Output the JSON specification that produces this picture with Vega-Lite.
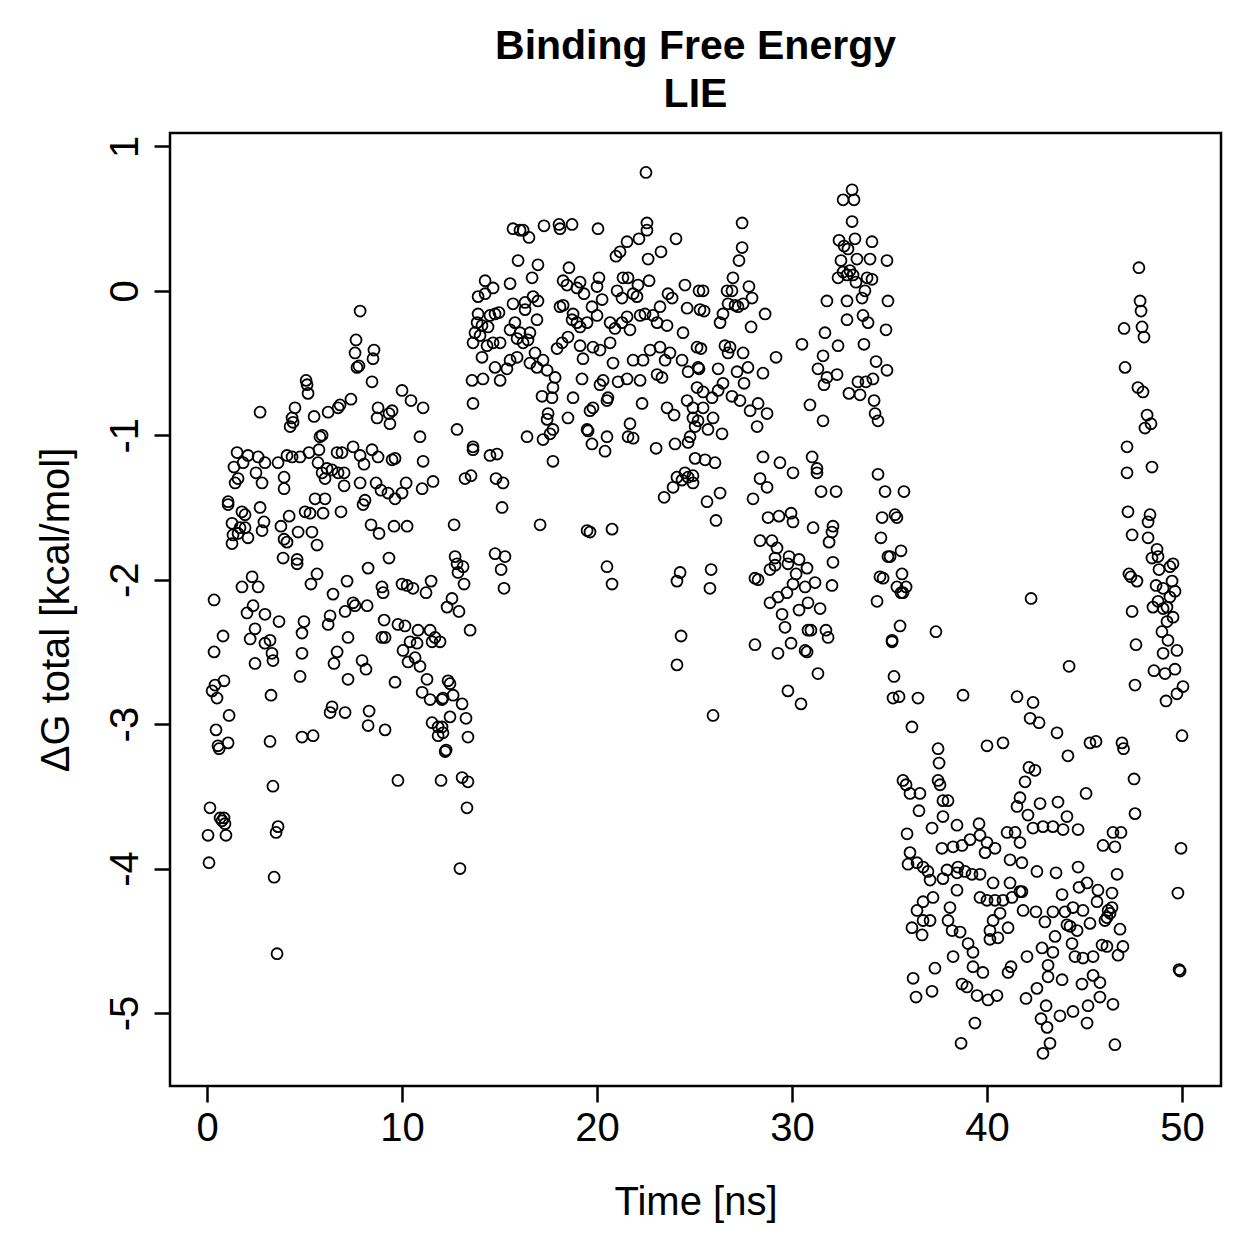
{
"$schema": "https://vega.github.io/schema/vega-lite/v6.json",
"width": 1051, "height": 953,
"autosize": {"type": "none"},
"padding": {"left": 170, "top": 133, "right": 38, "bottom": 173},
"background": "white",
"title": {"text": ["Binding Free Energy", "LIE"], "font": "Liberation Sans", "fontSize": 41, "fontWeight": "bold", "color": "black", "anchor": "middle", "frame": "group", "baseline": "bottom", "lineHeight": 48, "offset": 16, "dy": 40},
"config": {"view": {"stroke": "black", "strokeWidth": 2.5}, "font": "Liberation Sans"},
"data": {"values": [
{"t":0.05,"g":-3.77},{"t":0.10,"g":-3.96},{"t":0.15,"g":-3.58},{"t":0.26,"g":-2.77},{"t":0.36,"g":-2.14},{"t":0.36,"g":-2.50},{"t":0.41,"g":-2.73},{"t":0.46,"g":-3.04},{"t":0.51,"g":-2.82},{"t":0.56,"g":-3.15},{"t":0.62,"g":-3.17},{"t":0.67,"g":-3.65},{"t":0.77,"g":-3.67},{"t":0.87,"g":-3.65},{"t":0.92,"g":-3.69},{"t":0.97,"g":-3.77},{"t":0.87,"g":-2.70},{"t":0.82,"g":-2.39},{"t":1.08,"g":-3.13},{"t":1.13,"g":-2.94},
{"t":1.08,"g":-1.46},{"t":1.08,"g":-1.48},{"t":1.79,"g":-1.53},{"t":1.95,"g":-1.55},{"t":2.72,"g":-1.50},{"t":1.28,"g":-1.61},{"t":1.69,"g":-1.64},{"t":1.95,"g":-1.64},{"t":1.33,"g":-1.69},{"t":1.28,"g":-1.75},{"t":1.59,"g":-1.68},{"t":2.10,"g":-1.71},{"t":2.82,"g":-1.66},{"t":2.92,"g":-1.60},{"t":1.54,"g":-1.12},{"t":2.10,"g":-1.14},{"t":2.62,"g":-1.15},{"t":2.97,"g":-1.19},{"t":1.85,"g":-1.19},{"t":1.38,"g":-1.22},{"t":2.51,"g":-1.26},{"t":1.59,"g":-1.30},{"t":1.44,"g":-1.33},{"t":2.82,"g":-1.33},{"t":2.72,"g":-0.84},{"t":1.79,"g":-2.05},{"t":2.31,"g":-1.98},{"t":2.62,"g":-2.05},{"t":2.36,"g":-2.18},{"t":2.05,"g":-2.23},{"t":2.97,"g":-2.24},{"t":3.69,"g":-2.29},{"t":2.21,"g":-2.41},{"t":2.46,"g":-2.34},{"t":2.97,"g":-2.44},{"t":3.23,"g":-2.42},{"t":3.33,"g":-2.51},{"t":3.38,"g":-2.56},{"t":2.46,"g":-2.58},{"t":3.28,"g":-2.80},{"t":3.23,"g":-3.12},{"t":3.38,"g":-3.43},{"t":3.64,"g":-3.71},{"t":3.54,"g":-3.75},{"t":3.44,"g":-4.06},{"t":3.59,"g":-4.59},
{"t":3.95,"g":-1.29},{"t":3.95,"g":-1.37},{"t":3.64,"g":-1.19},{"t":4.10,"g":-1.14},{"t":4.36,"g":-1.15},{"t":4.77,"g":-1.15},{"t":4.51,"g":-0.81},{"t":4.36,"g":-0.88},{"t":4.41,"g":-0.91},{"t":4.26,"g":-0.94},{"t":3.79,"g":-1.63},{"t":4.21,"g":-1.56},{"t":3.95,"g":-1.72},{"t":4.10,"g":-1.74},{"t":3.90,"g":-1.85},{"t":4.67,"g":-1.67},{"t":4.62,"g":-1.86},{"t":4.62,"g":-1.89},{"t":5.08,"g":-0.62},{"t":5.13,"g":-0.65},{"t":5.18,"g":-0.71},{"t":5.49,"g":-0.87},{"t":5.23,"g":-1.12},{"t":5.74,"g":-1.10},{"t":5.69,"g":-1.19},{"t":5.90,"g":-1.26},{"t":6.15,"g":-1.23},{"t":6.41,"g":-1.24},{"t":6.72,"g":-1.26},{"t":7.03,"g":-1.26},{"t":6.05,"g":-1.30},{"t":6.67,"g":-1.12},{"t":6.92,"g":-1.12},{"t":5.90,"g":-1.00},{"t":5.79,"g":-1.01},{"t":6.21,"g":-0.84},{"t":6.72,"g":-0.81},{"t":6.82,"g":-0.79},{"t":7.38,"g":-0.75},{"t":5.03,"g":-1.53},{"t":5.28,"g":-1.54},{"t":5.54,"g":-1.44},{"t":6.05,"g":-1.44},{"t":5.95,"g":-1.54},{"t":6.87,"g":-1.53},{"t":5.38,"g":-1.67},{"t":5.64,"g":-1.76},{"t":5.64,"g":-1.96},{"t":5.33,"g":-2.03},{"t":6.46,"g":-2.10},{"t":7.03,"g":-1.35},{"t":6.31,"g":-2.25},{"t":7.08,"g":-2.22},{"t":4.97,"g":-2.29},{"t":4.87,"g":-2.37},{"t":4.87,"g":-2.51},{"t":4.77,"g":-2.67},{"t":6.21,"g":-2.31},{"t":7.59,"g":-2.18},{"t":8.21,"g":-2.18},{"t":7.23,"g":-2.40},{"t":6.67,"g":-2.50},{"t":6.51,"g":-2.58},{"t":7.95,"g":-2.56},{"t":8.15,"g":-2.62},{"t":7.23,"g":-2.69},{"t":6.31,"g":-2.92},{"t":6.41,"g":-2.88},{"t":7.08,"g":-2.92},{"t":8.26,"g":-3.01},{"t":8.31,"g":-2.91},{"t":4.87,"g":-3.09},{"t":5.44,"g":-3.08},
{"t":7.85,"g":-0.14},{"t":7.64,"g":-0.34},{"t":7.59,"g":-0.43},{"t":8.56,"g":-0.41},{"t":8.51,"g":-0.47},{"t":7.69,"g":-0.53},{"t":7.79,"g":-0.52},{"t":8.46,"g":-0.63},{"t":7.49,"g":-1.08},{"t":7.85,"g":-1.14},{"t":8.05,"g":-1.20},{"t":8.46,"g":-1.10},{"t":8.77,"g":-1.15},{"t":9.49,"g":-1.17},{"t":9.64,"g":-1.16},{"t":8.77,"g":-0.81},{"t":8.72,"g":-0.88},{"t":9.49,"g":-0.83},{"t":9.33,"g":-0.85},{"t":9.38,"g":-0.92},{"t":10.0,"g":-0.69},{"t":10.46,"g":-0.76},{"t":11.08,"g":-0.81},{"t":10.92,"g":-1.01},{"t":7.85,"g":-1.33},{"t":8.0,"g":-1.48},{"t":8.10,"g":-1.45},{"t":8.67,"g":-1.33},{"t":8.92,"g":-1.38},{"t":9.28,"g":-1.40},{"t":9.64,"g":-1.44},{"t":10.0,"g":-1.40},{"t":10.21,"g":-1.33},{"t":11.08,"g":-1.18},{"t":11.59,"g":-1.32},{"t":11.03,"g":-1.37},{"t":8.41,"g":-1.62},{"t":8.82,"g":-1.68},{"t":9.59,"g":-1.63},{"t":10.26,"g":-1.63},{"t":9.33,"g":-1.85},{"t":8.26,"g":-1.92},{"t":7.18,"g":-2.01},{"t":8.97,"g":-2.05},{"t":9.03,"g":-2.09},{"t":10.0,"g":-2.03},{"t":10.26,"g":-2.04},{"t":10.56,"g":-2.06},{"t":11.23,"g":-2.09},{"t":11.49,"g":-2.01},{"t":7.49,"g":-2.16},{"t":9.08,"g":-2.28},{"t":8.97,"g":-2.40},{"t":9.13,"g":-2.40},{"t":9.79,"g":-2.31},{"t":10.15,"g":-2.32},{"t":10.82,"g":-2.35},{"t":11.44,"g":-2.35},{"t":11.69,"g":-2.40},{"t":11.54,"g":-2.43},{"t":10.05,"g":-2.49},{"t":10.41,"g":-2.43},{"t":10.77,"g":-2.44},{"t":10.31,"g":-2.57},{"t":10.67,"g":-2.54},{"t":10.92,"g":-2.60},{"t":9.64,"g":-2.71},{"t":11.28,"g":-2.69},{"t":11.03,"g":-2.78},{"t":11.44,"g":-2.83},{"t":12.05,"g":-2.83},{"t":12.36,"g":-2.70},{"t":9.13,"g":-3.04},{"t":11.54,"g":-2.99},{"t":11.85,"g":-3.02},{"t":11.85,"g":-3.08},{"t":12.26,"g":-3.18},{"t":9.79,"g":-3.39},{"t":12.0,"g":-3.39},
{"t":13.64,"g":-1.10},{"t":13.23,"g":-1.30},{"t":13.54,"g":-1.28},{"t":12.67,"g":-1.62},{"t":12.72,"g":-1.84},{"t":12.82,"g":-1.89},{"t":13.13,"g":-1.91},{"t":12.87,"g":-1.95},{"t":13.18,"g":-2.03},{"t":12.56,"g":-2.13},{"t":12.31,"g":-2.19},{"t":12.92,"g":-2.22},{"t":13.49,"g":-2.35},{"t":11.95,"g":-2.43},{"t":12.46,"g":-2.72},{"t":12.62,"g":-2.80},{"t":12.10,"g":-2.82},{"t":13.08,"g":-2.86},{"t":12.46,"g":-2.95},{"t":13.28,"g":-2.96},{"t":12.05,"g":-3.02},{"t":12.10,"g":-3.06},{"t":13.38,"g":-3.09},{"t":12.21,"g":-3.19},{"t":13.08,"g":-3.37},{"t":13.38,"g":-3.40},{"t":12.97,"g":-4.00},{"t":13.33,"g":-3.58},{"t":12.82,"g":-0.96},
{"t":22.51,"g":0.82},{"t":15.69,"g":0.43},{"t":16.05,"g":0.42},{"t":16.21,"g":0.42},{"t":16.51,"g":0.37},{"t":17.28,"g":0.45},{"t":18.05,"g":0.46},{"t":18.10,"g":0.43},{"t":18.72,"g":0.46},{"t":20.05,"g":0.43},{"t":22.56,"g":0.47},{"t":22.56,"g":0.42},{"t":22.15,"g":0.36},{"t":21.54,"g":0.34},{"t":24.05,"g":0.36},{"t":21.18,"g":0.27},{"t":20.97,"g":0.24},{"t":23.28,"g":0.27},{"t":22.62,"g":0.22},{"t":15.95,"g":0.21},{"t":16.97,"g":0.18},{"t":16.67,"g":0.09},{"t":18.56,"g":0.16},{"t":14.26,"g":0.07},{"t":14.67,"g":0.02},{"t":15.54,"g":0.05},{"t":13.90,"g":-0.04},{"t":14.26,"g":-0.02},{"t":18.26,"g":0.07},{"t":18.46,"g":0.04},{"t":19.13,"g":0.06},{"t":18.97,"g":0.02},{"t":19.33,"g":-0.02},{"t":20.0,"g":0.03},{"t":20.10,"g":0.09},{"t":21.33,"g":0.09},{"t":21.59,"g":0.09},{"t":22.10,"g":0.04},{"t":22.67,"g":0.07},{"t":21.03,"g":0.00},{"t":21.28,"g":-0.05},{"t":21.85,"g":-0.02},{"t":22.05,"g":-0.04},{"t":24.51,"g":0.04},{"t":25.23,"g":0.00},{"t":23.64,"g":-0.02},{"t":23.85,"g":-0.05},{"t":13.90,"g":-0.16},{"t":14.51,"g":-0.17},{"t":14.77,"g":-0.16},{"t":14.97,"g":-0.15},{"t":15.69,"g":-0.09},{"t":16.31,"g":-0.08},{"t":16.72,"g":-0.04},{"t":16.97,"g":-0.07},{"t":16.31,"g":-0.13},{"t":16.92,"g":-0.20},{"t":15.79,"g":-0.22},{"t":16.05,"g":-0.29},{"t":16.56,"g":-0.29},{"t":13.85,"g":-0.22},{"t":14.10,"g":-0.24},{"t":14.41,"g":-0.25},{"t":13.74,"g":-0.29},{"t":14.0,"g":-0.31},{"t":14.36,"g":-0.38},{"t":13.64,"g":-0.36},{"t":14.67,"g":-0.36},{"t":15.03,"g":-0.36},{"t":15.54,"g":-0.27},{"t":15.90,"g":-0.33},{"t":16.21,"g":-0.36},{"t":16.46,"g":-0.34},{"t":14.10,"g":-0.46},{"t":14.77,"g":-0.53},{"t":15.38,"g":-0.54},{"t":13.59,"g":-0.62},{"t":14.15,"g":-0.61},{"t":15.03,"g":-0.62},{"t":15.54,"g":-0.48},{"t":15.90,"g":-0.46},{"t":16.82,"g":-0.43},{"t":16.56,"g":-0.50},{"t":16.92,"g":-0.53},{"t":17.23,"g":-0.48},{"t":17.44,"g":-0.55},{"t":17.85,"g":-0.60},{"t":17.74,"g":-0.67},{"t":17.18,"g":-0.73},{"t":17.69,"g":-0.74},{"t":18.77,"g":-0.74},{"t":18.10,"g":-0.11},{"t":18.26,"g":-0.10},{"t":18.77,"g":-0.16},{"t":18.97,"g":-0.22},{"t":19.13,"g":-0.25},{"t":18.72,"g":-0.20},{"t":19.49,"g":-0.22},{"t":19.74,"g":-0.11},{"t":20.0,"g":-0.17},{"t":20.26,"g":-0.06},{"t":20.67,"g":-0.22},{"t":20.92,"g":-0.26},{"t":21.28,"g":-0.22},{"t":21.54,"g":-0.18},{"t":21.69,"g":-0.27},{"t":22.21,"g":-0.17},{"t":22.46,"g":-0.16},{"t":22.87,"g":-0.17},{"t":23.23,"g":-0.11},{"t":23.08,"g":-0.22},{"t":23.59,"g":-0.24},{"t":24.41,"g":-0.29},{"t":24.62,"g":-0.12},{"t":25.28,"g":-0.13},{"t":18.51,"g":-0.32},{"t":18.21,"g":-0.36},{"t":17.95,"g":-0.40},{"t":19.13,"g":-0.38},{"t":19.79,"g":-0.39},{"t":20.15,"g":-0.41},{"t":20.67,"g":-0.36},{"t":19.28,"g":-0.47},{"t":20.82,"g":-0.50},{"t":21.85,"g":-0.48},{"t":22.36,"g":-0.48},{"t":22.72,"g":-0.41},{"t":23.23,"g":-0.39},{"t":23.74,"g":-0.43},{"t":24.36,"g":-0.48},{"t":24.67,"g":-0.56},{"t":23.49,"g":-0.48},{"t":23.08,"g":-0.58},{"t":23.33,"g":-0.60},{"t":22.21,"g":-0.62},{"t":21.54,"g":-0.61},{"t":21.08,"g":-0.63},{"t":20.31,"g":-0.62},{"t":20.15,"g":-0.65},{"t":19.23,"g":-0.61},{"t":18.51,"g":-0.88},{"t":17.49,"g":-0.85},{"t":17.44,"g":-0.89},{"t":17.74,"g":-0.96},{"t":17.59,"g":-0.99},{"t":17.23,"g":-1.03},{"t":16.41,"g":-1.01},{"t":14.51,"g":-1.14},{"t":14.87,"g":-1.13},{"t":13.64,"g":-1.08},{"t":13.64,"g":-0.78},{"t":17.74,"g":-1.18},{"t":19.49,"g":-0.96},{"t":19.54,"g":-0.97},{"t":19.74,"g":-1.06},{"t":20.41,"g":-1.11},{"t":20.51,"g":-1.01},{"t":19.79,"g":-0.81},{"t":19.64,"g":-0.83},{"t":20.51,"g":-0.76},{"t":20.56,"g":-0.74},{"t":21.69,"g":-0.92},{"t":21.59,"g":-1.01},{"t":21.85,"g":-1.02},{"t":22.31,"g":-0.78},{"t":23.03,"g":-1.09},{"t":23.59,"g":-0.81},{"t":23.95,"g":-0.86},{"t":24.0,"g":-1.06},{"t":24.62,"g":-0.76},{"t":24.92,"g":-0.88},{"t":25.03,"g":-0.94},{"t":24.77,"g":-1.01},{"t":24.67,"g":-1.05},{"t":25.03,"g":-1.16},{"t":24.51,"g":-1.26},{"t":24.10,"g":-1.29},{"t":25.13,"g":-0.39},{"t":25.18,"g":-0.53},{"t":25.13,"g":-0.67},{"t":24.92,"g":-0.81},
{"t":14.82,"g":-1.30},{"t":15.18,"g":-1.33},{"t":15.13,"g":-1.50},{"t":17.08,"g":-1.62},{"t":19.49,"g":-1.66},{"t":19.64,"g":-1.67},{"t":20.77,"g":-1.65},{"t":23.44,"g":-1.43},{"t":23.90,"g":-1.36},{"t":24.92,"g":-1.33},{"t":24.67,"g":-1.29},{"t":24.36,"g":-1.31},{"t":14.77,"g":-1.82},{"t":15.28,"g":-1.84},{"t":15.08,"g":-1.93},{"t":15.23,"g":-2.06},{"t":20.51,"g":-1.91},{"t":20.77,"g":-2.03},{"t":24.26,"g":-1.95},{"t":24.10,"g":-2.01},{"t":24.31,"g":-2.39},{"t":24.10,"g":-2.59},
{"t":27.44,"g":0.47},{"t":27.44,"g":0.30},{"t":27.28,"g":0.21},{"t":26.97,"g":0.09},{"t":26.67,"g":0.00},{"t":26.92,"g":0.00},{"t":27.79,"g":0.03},{"t":27.95,"g":-0.05},{"t":27.49,"g":-0.09},{"t":27.08,"g":-0.10},{"t":27.23,"g":-0.11},{"t":26.72,"g":-0.09},{"t":26.46,"g":-0.16},{"t":26.31,"g":-0.22},{"t":28.62,"g":-0.16},{"t":27.90,"g":-0.25},{"t":25.44,"g":0.00},{"t":25.49,"g":-0.14},{"t":25.33,"g":-0.40},{"t":26.56,"g":-0.38},{"t":26.82,"g":-0.39},{"t":26.72,"g":-0.43},{"t":27.49,"g":-0.43},{"t":29.18,"g":-0.46},{"t":25.23,"g":-0.54},{"t":26.21,"g":-0.54},{"t":27.18,"g":-0.56},{"t":27.74,"g":-0.53},{"t":28.51,"g":-0.57},{"t":27.54,"g":-0.64},{"t":26.46,"g":-0.64},{"t":26.21,"g":-0.69},{"t":25.44,"g":-0.70},{"t":25.90,"g":-0.74},{"t":26.92,"g":-0.73},{"t":27.33,"g":-0.76},{"t":28.26,"g":-0.78},{"t":28.72,"g":-0.85},{"t":27.85,"g":-0.83},{"t":25.95,"g":-0.88},{"t":25.44,"g":-0.81},{"t":25.18,"g":-0.90},{"t":25.69,"g":-0.96},{"t":26.41,"g":-0.99},{"t":28.21,"g":-0.94},{"t":25.54,"g":-1.17},{"t":26.05,"g":-1.19},{"t":28.51,"g":-1.15},{"t":29.38,"g":-1.19},{"t":28.36,"g":-1.30},{"t":30.05,"g":-1.26},{"t":31.03,"g":-1.15},{"t":31.28,"g":-1.23},{"t":31.28,"g":-1.26},{"t":34.41,"g":-1.27},
{"t":33.08,"g":0.70},{"t":32.62,"g":0.63},{"t":33.18,"g":0.63},{"t":33.08,"g":0.48},{"t":32.41,"g":0.35},{"t":32.67,"g":0.31},{"t":33.23,"g":0.36},{"t":34.10,"g":0.34},{"t":32.87,"g":0.29},{"t":32.51,"g":0.21},{"t":33.33,"g":0.22},{"t":34.0,"g":0.22},{"t":34.87,"g":0.21},{"t":32.36,"g":0.09},{"t":32.62,"g":0.13},{"t":32.97,"g":0.14},{"t":33.13,"g":0.11},{"t":32.82,"g":0.11},{"t":33.28,"g":0.06},{"t":33.85,"g":0.09},{"t":34.10,"g":0.08},{"t":33.74,"g":0.00},{"t":31.79,"g":-0.07},{"t":32.82,"g":-0.07},{"t":33.59,"g":-0.05},{"t":34.92,"g":-0.07},{"t":33.64,"g":-0.17},{"t":32.82,"g":-0.20},{"t":33.90,"g":-0.22},{"t":34.82,"g":-0.27},{"t":31.69,"g":-0.29},{"t":32.36,"g":-0.38},{"t":33.69,"g":-0.37},{"t":30.51,"g":-0.37},{"t":31.59,"g":-0.45},{"t":31.33,"g":-0.54},{"t":32.31,"g":-0.58},{"t":31.64,"g":-0.65},{"t":31.79,"g":-0.60},{"t":34.31,"g":-0.49},{"t":34.87,"g":-0.55},{"t":33.38,"g":-0.63},{"t":33.79,"g":-0.63},{"t":34.15,"g":-0.61},{"t":32.92,"g":-0.71},{"t":33.49,"g":-0.72},{"t":34.21,"g":-0.76},{"t":34.26,"g":-0.85},{"t":34.41,"g":-0.90},{"t":30.92,"g":-0.79},{"t":31.59,"g":-0.90},
{"t":24.92,"g":-1.28},{"t":26.31,"g":-1.40},{"t":25.64,"g":-1.46},{"t":26.10,"g":-1.59},{"t":31.49,"g":-1.39},{"t":32.26,"g":-1.39},{"t":28.72,"g":-1.36},{"t":28.0,"g":-1.44},{"t":28.77,"g":-1.57},{"t":29.33,"g":-1.56},{"t":29.95,"g":-1.54},{"t":30.05,"g":-1.60},{"t":31.08,"g":-1.64},{"t":32.10,"g":-1.63},{"t":32.05,"g":-1.67},{"t":31.90,"g":-1.74},{"t":28.36,"g":-1.73},{"t":28.97,"g":-1.73},{"t":29.23,"g":-1.78},{"t":29.13,"g":-1.85},{"t":29.85,"g":-1.84},{"t":30.36,"g":-1.86},{"t":30.77,"g":-1.92},{"t":28.87,"g":-1.93},{"t":29.13,"g":-1.90},{"t":29.79,"g":-1.89},{"t":30.21,"g":-1.96},{"t":28.10,"g":-1.99},{"t":28.26,"g":-2.00},{"t":31.18,"g":-2.02},{"t":32.10,"g":-1.88},{"t":32.05,"g":-2.04},{"t":30.05,"g":-2.03},{"t":30.67,"g":-2.05},{"t":29.74,"g":-2.09},{"t":29.28,"g":-2.12},{"t":28.87,"g":-2.16},{"t":30.82,"g":-2.16},{"t":31.44,"g":-2.20},{"t":30.36,"g":-2.21},{"t":29.49,"g":-2.24},{"t":29.64,"g":-2.33},{"t":30.82,"g":-2.35},{"t":30.97,"g":-2.35},{"t":31.74,"g":-2.35},{"t":31.85,"g":-2.40},{"t":30.67,"g":-2.49},{"t":30.77,"g":-2.50},{"t":29.95,"g":-2.44},{"t":29.28,"g":-2.51},{"t":28.10,"g":-2.45},{"t":31.33,"g":-2.65},{"t":29.79,"g":-2.77},{"t":30.46,"g":-2.86},{"t":25.95,"g":-2.94},{"t":25.85,"g":-1.93},{"t":25.79,"g":-2.06},
{"t":34.77,"g":-1.39},{"t":35.74,"g":-1.39},{"t":34.62,"g":-1.57},{"t":35.28,"g":-1.55},{"t":35.38,"g":-1.57},{"t":34.56,"g":-1.71},{"t":35.59,"g":-1.80},{"t":35.03,"g":-1.84},{"t":34.92,"g":-1.84},{"t":34.51,"g":-1.98},{"t":34.67,"g":-1.99},{"t":35.64,"g":-1.96},{"t":35.38,"g":-2.05},{"t":35.69,"g":-2.09},{"t":35.85,"g":-2.05},{"t":35.59,"g":-2.09},{"t":34.36,"g":-2.15},{"t":35.54,"g":-2.32},{"t":35.13,"g":-2.43},{"t":35.13,"g":-2.42},{"t":37.38,"g":-2.36},{"t":35.23,"g":-2.67},{"t":35.18,"g":-2.82},{"t":35.49,"g":-2.81},{"t":36.46,"g":-2.82},{"t":36.15,"g":-3.02},{"t":37.49,"g":-3.17},
{"t":38.77,"g":-2.80},{"t":41.54,"g":-2.81},{"t":42.36,"g":-2.85},{"t":42.26,"g":-2.13},{"t":44.21,"g":-2.60},{"t":42.21,"g":-2.96},{"t":42.67,"g":-2.99},
{"t":47.08,"g":-0.53},{"t":47.74,"g":-0.67},{"t":48.0,"g":-0.70},{"t":48.21,"g":-0.86},{"t":48.41,"g":-0.92},{"t":48.10,"g":-0.95},{"t":47.18,"g":-1.08},{"t":48.46,"g":-1.22},{"t":47.18,"g":-1.26},{"t":47.23,"g":-1.53},{"t":48.36,"g":-1.55},{"t":48.26,"g":-1.60},{"t":47.44,"g":-1.69},{"t":48.26,"g":-1.71},{"t":48.72,"g":-1.79},{"t":48.46,"g":-1.85},{"t":48.77,"g":-1.84},{"t":49.54,"g":-1.89},{"t":49.38,"g":-1.91},{"t":48.82,"g":-1.93},{"t":47.28,"g":-1.96},{"t":47.38,"g":-1.98},{"t":47.69,"g":-2.01},{"t":49.49,"g":-2.01},{"t":48.67,"g":-2.04},{"t":49.64,"g":-2.08},{"t":49.03,"g":-2.06},{"t":49.38,"g":-2.12},{"t":48.77,"g":-2.15},{"t":48.51,"g":-2.19},{"t":49.23,"g":-2.19},{"t":49.03,"g":-2.20},{"t":47.44,"g":-2.22},{"t":49.54,"g":-2.26},{"t":49.23,"g":-2.29},{"t":48.97,"g":-2.36},{"t":49.28,"g":-2.42},{"t":47.64,"g":-2.45},{"t":49.03,"g":-2.51},{"t":49.74,"g":-2.49},{"t":48.56,"g":-2.63},{"t":49.13,"g":-2.65},{"t":49.64,"g":-2.62},{"t":50.05,"g":-2.74},{"t":49.74,"g":-2.79},{"t":49.18,"g":-2.84},{"t":47.59,"g":-2.73},{"t":47.79,"g":0.16},{"t":47.85,"g":-0.07},{"t":47.90,"g":-0.14},{"t":47.03,"g":-0.26},{"t":47.95,"g":-0.25},{"t":48.05,"g":-0.32},
{"t":37.54,"g":-3.27},{"t":35.69,"g":-3.39},{"t":35.85,"g":-3.42},{"t":36.56,"g":-3.48},{"t":36.05,"g":-3.48},{"t":37.49,"g":-3.39},{"t":37.59,"g":-3.42},{"t":37.74,"g":-3.53},{"t":38.0,"g":-3.53},{"t":36.51,"g":-3.60},{"t":37.74,"g":-3.64},{"t":38.46,"g":-3.70},{"t":37.18,"g":-3.72},{"t":35.90,"g":-3.76},{"t":39.59,"g":-3.69},{"t":36.05,"g":-3.89},{"t":35.95,"g":-3.97},{"t":36.41,"g":-3.96},{"t":36.72,"g":-3.99},{"t":36.97,"g":-4.02},{"t":37.08,"g":-4.08},{"t":37.69,"g":-3.86},{"t":38.26,"g":-3.85},{"t":38.72,"g":-3.84},{"t":39.13,"g":-3.80},{"t":39.64,"g":-3.77},{"t":40.0,"g":-3.82},{"t":39.90,"g":-3.89},{"t":40.41,"g":-3.86},{"t":37.95,"g":-4.01},{"t":37.74,"g":-4.07},{"t":38.46,"g":-4.03},{"t":38.51,"g":-3.99},{"t":38.87,"g":-4.02},{"t":39.23,"g":-4.04},{"t":39.64,"g":-4.04},{"t":38.46,"g":-4.15},{"t":36.72,"g":-4.23},{"t":37.23,"g":-4.20},{"t":36.41,"g":-4.29},{"t":36.72,"g":-4.36},{"t":37.08,"g":-4.36},{"t":36.15,"g":-4.41},{"t":36.67,"g":-4.46},{"t":38.10,"g":-4.27},{"t":38.0,"g":-4.36},{"t":38.21,"g":-4.43},{"t":38.62,"g":-4.44},{"t":39.03,"g":-4.52},{"t":39.28,"g":-4.58},{"t":38.26,"g":-4.61},{"t":37.33,"g":-4.69},{"t":36.21,"g":-4.76},{"t":36.36,"g":-4.89},{"t":37.18,"g":-4.85},{"t":38.72,"g":-4.80},{"t":38.97,"g":-4.82},{"t":39.49,"g":-4.88},{"t":40.05,"g":-4.91},{"t":40.51,"g":-4.88},{"t":39.38,"g":-5.07},{"t":38.67,"g":-5.21},{"t":39.64,"g":-4.20},{"t":40.0,"g":-4.22},{"t":40.41,"g":-4.22},{"t":40.82,"g":-4.22},{"t":41.28,"g":-4.20},{"t":41.69,"g":-4.16},{"t":40.31,"g":-4.10},{"t":41.18,"g":-4.10},{"t":41.18,"g":-3.94},{"t":41.79,"g":-3.96},{"t":41.03,"g":-3.75},{"t":41.44,"g":-3.75},{"t":41.69,"g":-3.82},{"t":41.54,"g":-3.57},{"t":41.69,"g":-3.51},{"t":42.10,"g":-3.63},{"t":41.95,"g":-3.40},{"t":42.15,"g":-3.30},{"t":42.46,"g":-3.32},{"t":42.36,"g":-3.72},{"t":42.87,"g":-3.71},{"t":43.38,"g":-3.71},{"t":43.90,"g":-3.73},{"t":44.10,"g":-3.64},{"t":44.67,"g":-3.73},{"t":42.72,"g":-3.55},{"t":43.64,"g":-3.54},{"t":45.08,"g":-3.48},{"t":44.15,"g":-3.22},{"t":43.59,"g":-3.06},{"t":45.28,"g":-3.13},{"t":45.59,"g":-3.12},{"t":46.92,"g":-3.13},{"t":47.0,"g":-3.17},{"t":47.54,"g":-3.38},{"t":47.59,"g":-3.62},{"t":50.0,"g":-3.08},{"t":49.95,"g":-3.86},{"t":49.79,"g":-4.17},{"t":49.85,"g":-4.70},{"t":49.90,"g":-4.71},{"t":45.95,"g":-3.84},{"t":46.46,"g":-3.75},{"t":46.87,"g":-3.75},{"t":46.56,"g":-3.85},{"t":46.67,"g":-4.04},{"t":46.41,"g":-4.17},{"t":45.69,"g":-4.15},{"t":45.13,"g":-4.10},{"t":44.72,"g":-4.13},{"t":44.67,"g":-3.99},{"t":43.85,"g":-4.18},{"t":43.54,"g":-4.03},{"t":42.56,"g":-4.02},{"t":41.79,"g":-4.16},{"t":41.85,"g":-4.29},{"t":42.51,"g":-4.30},{"t":42.97,"g":-4.37},{"t":43.38,"g":-4.30},{"t":44.0,"g":-4.30},{"t":44.41,"g":-4.27},{"t":44.92,"g":-4.29},{"t":45.64,"g":-4.23},{"t":46.21,"g":-4.29},{"t":46.15,"g":-4.34},{"t":46.05,"g":-4.36},{"t":46.82,"g":-4.42},{"t":45.28,"g":-4.38},{"t":44.26,"g":-4.40},{"t":44.62,"g":-4.43},{"t":43.49,"g":-4.47},{"t":44.36,"g":-4.52},{"t":43.38,"g":-4.58},{"t":42.82,"g":-4.55},{"t":42.05,"g":-4.61},{"t":43.13,"g":-4.67},{"t":43.13,"g":-4.75},{"t":43.85,"g":-4.77},{"t":44.87,"g":-4.80},{"t":45.44,"g":-4.74},{"t":45.79,"g":-4.79},{"t":45.79,"g":-4.89},{"t":46.46,"g":-4.94},{"t":45.18,"g":-4.95},{"t":44.41,"g":-4.99},{"t":43.74,"g":-5.02},{"t":45.13,"g":-5.07},{"t":43.08,"g":-5.10},{"t":42.77,"g":-5.04},{"t":43.03,"g":-4.95},{"t":42.56,"g":-4.83},{"t":42.0,"g":-4.90},{"t":43.23,"g":-5.21},{"t":42.87,"g":-5.28},{"t":46.56,"g":-5.22},{"t":46.72,"g":-4.60},{"t":46.97,"g":-4.54},{"t":46.15,"g":-4.54},{"t":45.90,"g":-4.53},{"t":45.44,"g":-4.61},{"t":44.92,"g":-4.62},{"t":44.51,"g":-4.61},{"t":44.10,"g":-4.39},{"t":46.41,"g":-4.27},{"t":46.31,"g":-4.31},{"t":41.23,"g":-4.68},{"t":41.08,"g":-4.72},{"t":40.15,"g":-4.49},{"t":40.56,"g":-4.48},{"t":41.08,"g":-4.41},{"t":40.67,"g":-4.31},{"t":40.31,"g":-4.36},{"t":40.15,"g":-4.43},{"t":39.28,"g":-4.68},{"t":39.79,"g":-4.72},{"t":40.0,"g":-3.15},{"t":40.82,"g":-3.13}
]},
"mark": {"type": "point", "shape": "circle", "filled": false, "stroke": "black", "strokeWidth": 1.8, "size": 120, "opacity": 1},
"encoding": {
"x": {"field": "t", "type": "quantitative", "scale": {"domain": [-1.9, 52.0], "nice": false, "zero": false},
 "axis": {"values": [0, 10, 20, 30, 40, 50], "grid": false, "domain": false, "ticks": true, "tickColor": "black", "tickWidth": 2.5, "tickSize": 16, "labelFont": "Liberation Sans", "labelFontSize": 40, "labelColor": "black", "labelPadding": 6, "labelBaseline": "top", "labelFlush": false, "labelOverlap": false, "labelExpr": "toString(datum.value)", "title": "Time [ns]", "titleFont": "Liberation Sans", "titleFontSize": 40, "titleFontWeight": "normal", "titleColor": "black", "titleX": 525.5, "titleY": 128, "titleBaseline": "alphabetic", "titleAlign": "center"}},
"y": {"field": "g", "type": "quantitative", "scale": {"domain": [-5.506, 1.093], "nice": false, "zero": false},
 "axis": {"values": [-5, -4, -3, -2, -1, 0, 1], "grid": false, "domain": false, "ticks": true, "tickColor": "black", "tickWidth": 2.5, "tickSize": 16, "labelFont": "Liberation Sans", "labelFontSize": 40, "labelColor": "black", "labelAngle": 270, "labelAlign": "center", "labelBaseline": "alphabetic", "labelPadding": 17, "labelFlush": false, "labelOverlap": false, "labelExpr": "toString(datum.value)", "title": "ΔG total [kcal/mol]", "titleFont": "Liberation Sans", "titleFontSize": 40, "titleFontWeight": "normal", "titleColor": "black", "titleAngle": 270, "titleX": -102, "titleY": 476.5, "titleBaseline": "alphabetic", "titleAlign": "center"}}
}
}
